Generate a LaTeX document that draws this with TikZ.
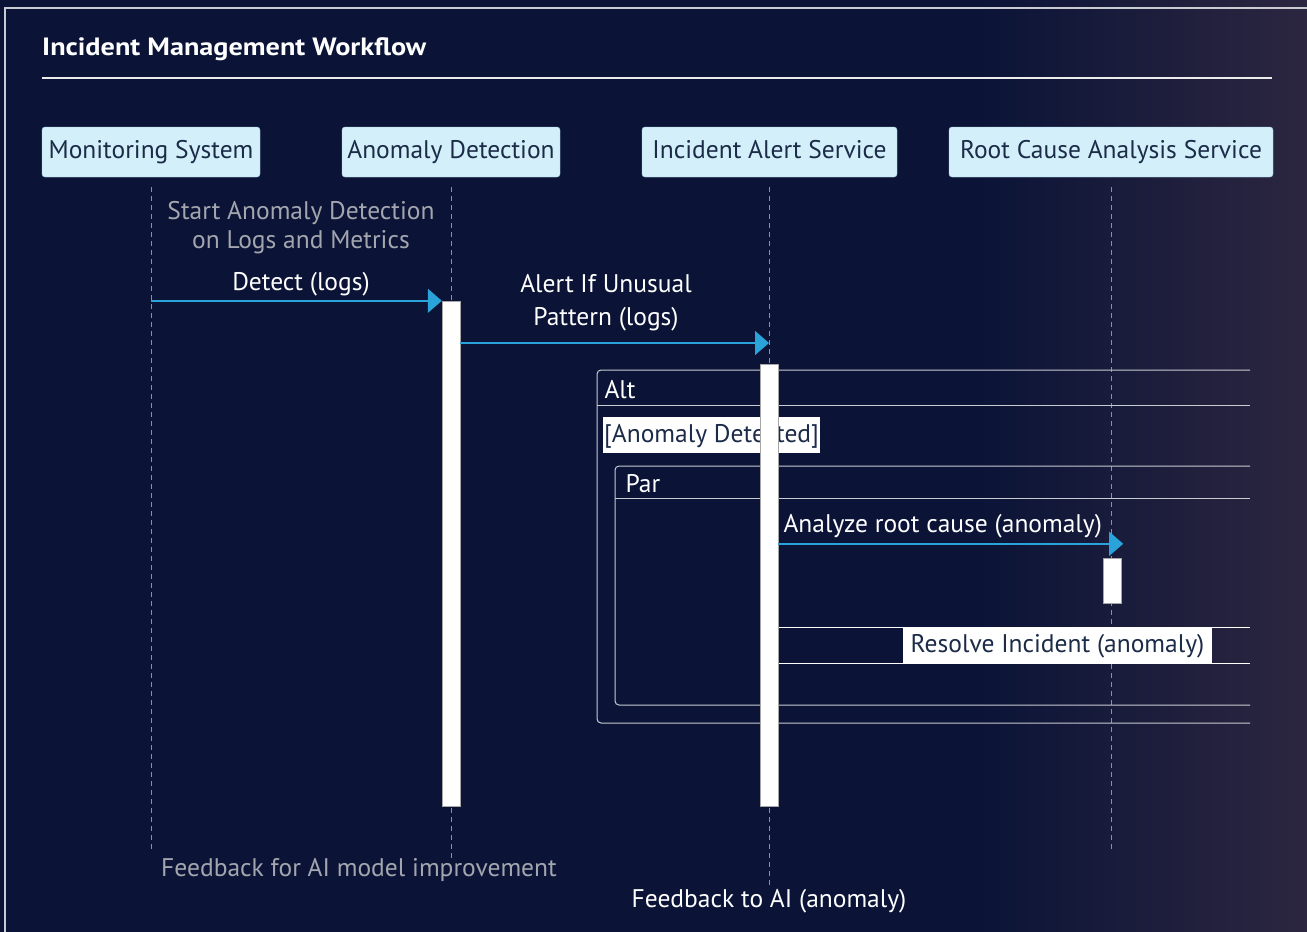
\documentclass[tikz,border=0pt]{standalone}
\usepackage{fontspec}
\setmainfont{PT Sans}
\usetikzlibrary{arrows.meta,positioning,calc}
\definecolor{bgnavy}{HTML}{0B1437}
\definecolor{bgplum}{HTML}{2C2640}
\definecolor{actorfill}{HTML}{D3F0FA}
\definecolor{actorline}{HTML}{9FCFE2}
\definecolor{inkdark}{HTML}{1B2B48}
\definecolor{msgblue}{HTML}{2AA3DB}
\definecolor{notegray}{HTML}{A3A6AE}
\definecolor{lifegray}{HTML}{8C90A0}
\definecolor{fragline}{HTML}{C9CBD3}

\begin{document}
\begin{tikzpicture}[x=1pt,y=-1pt,
    actor/.style={draw=actorline, fill=actorfill, rounded corners=3pt, text=inkdark,
      minimum height=50pt, inner sep=0pt, text height=18pt, text depth=5pt,
      font=\fontsize{25.5}{30}\selectfont},
    life/.style={lifegray, dashed, dash pattern=on 5pt off 4pt, line width=0.8pt},
    activebar/.style={draw=gray!70, fill=white, minimum width=18pt, inner sep=0pt},
    msg/.style={msgblue, line width=1.6pt, -{Triangle[length=14pt,width=24pt]}},
    msglabel/.style={text=white, align=center, font=\fontsize{25.5}{33}\selectfont},
    notelabel/.style={text=notegray, align=center, font=\fontsize{25.5}{29}\selectfont},
    frag/.style={fragline, line width=1pt},
    guard/.style={fill=white, text=inkdark, inner xsep=1pt, inner ysep=0pt,
      minimum height=36pt, text height=18pt, text depth=4pt,
      font=\fontsize{25.5}{30}\selectfont}]

  \useasboundingbox (0,0) rectangle (1307,932);
  \fill[bgnavy] (0,0) rectangle (1307,932);
  \shade[left color=bgnavy, right color=bgplum] (980,0) rectangle (1307,932);
  \draw[fragline, line width=1.2pt] (5,932) -- (5,8) -- (1307,8);

  \node[anchor=base west, inner sep=0pt, text=white,
    font=\fontsize{25}{30}\selectfont\bfseries\addfontfeature{FakeStretch=1.13}] (title) at (42,55) {Incident Management Workflow};
  \draw[white!85!gray, line width=1.2pt] (42,78) -- (1272,78);

  \node[actor, minimum width=218pt] (ms) at (151,152) {Monitoring System};
  \node[actor, minimum width=218pt] (ad) at (451,152) {Anomaly Detection};
  \node[actor, minimum width=255pt] (ias) at (769.5,152) {Incident Alert Service};
  \node[actor, minimum width=324pt] (rca) at (1111,152) {Root Cause Analysis Service};

  \coordinate (msend) at (151,853);
  \coordinate (adend) at (451,858);
  \coordinate (iasend) at (769.5,886);
  \coordinate (rcaend) at (1111,853);
  \draw[life] ($(ms.south)+(0,10)$) -- (msend);
  \draw[life] ($(ad.south)+(0,10)$) -- (adend);
  \draw[life] ($(ias.south)+(0,10)$) -- (iasend);
  \draw[life] ($(rca.south)+(0,10)$) -- (rcaend);

  \node[notelabel] (start) at (301,228) {Start Anomaly Detection\\on Logs and Metrics};

  % alt and par fragments
  \draw[frag, rounded corners=4pt] (1250,370) -- (597,370) -- (597,723) -- (1250,723);
  \draw[frag] (597,405) -- (1250,405);
  \node[anchor=west, text=white, font=\fontsize{25.5}{30}\selectfont] (alt) at (601,390) {Alt};
  \node[guard, anchor=west] (cond) at (603,435) {[Anomaly Detected]};
  \draw[frag, rounded corners=4pt] (1250,466) -- (615,466) -- (615,705) -- (1250,705);
  \draw[frag] (615,498) -- (1250,498);
  \node[anchor=west, text=white, font=\fontsize{25.5}{30}\selectfont] (par) at (622,484) {Par};

  \draw[white, line width=1pt] (779,627) -- (1250,627);
  \draw[white, line width=1pt] (779,663) -- (1250,663);
  \node[guard, minimum width=309pt] (resolve) at (1057.5,645) {Resolve Incident (anomaly)};

  \node[activebar, minimum height=505pt] (adbar) at (451,553.5) {};
  \node[activebar, minimum height=442pt] (iasbar) at (769,585) {};
  \node[activebar, minimum height=45pt] (rcabar) at (1112,580.5) {};

  \draw[msg] (ms |- adbar.north) -- (adbar.north west);
  \node[msglabel] (detect) at (301,284) {Detect (logs)};

  \coordinate (alerttip) at (769,343);
  \draw[msg] (adbar.east |- alerttip) -- (alerttip);
  \node[msglabel] (alertlbl) at (606,303) {Alert If Unusual\\Pattern (logs)};

  \coordinate (analyzetip) at ($(rcabar.north east)+(2,-14)$);
  \draw[msg] (iasbar.east |- analyzetip) -- (analyzetip);
  \node[msglabel, anchor=west] (analyzelbl) at (780,526) {Analyze root cause (anomaly)};

  \node[notelabel] (fbmodel) at (359,870) {Feedback for AI model improvement};
  \node[msglabel] (fbai) at (769,901) {Feedback to AI (anomaly)};
\end{tikzpicture}
\end{document}
